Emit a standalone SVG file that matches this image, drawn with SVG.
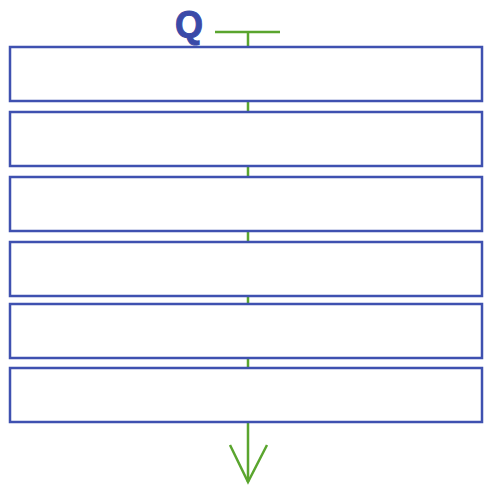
<svg xmlns="http://www.w3.org/2000/svg" width="488" height="494" viewBox="0 0 488 494">
<style>
.box{fill:#fff;stroke:#3f51b0;stroke-width:2.5}
.ln{stroke:#5aa52e;stroke-width:2.5;fill:none}
.q{font-family:"Liberation Sans",Arial,sans-serif;font-weight:bold;font-size:36px;fill:#3a4aa8;stroke:#3a4aa8;stroke-width:1}
</style>
<rect width="488" height="494" fill="#fff"/>
<g id="connectors">
<line class="ln" x1="215" y1="32" x2="280" y2="32" stroke-width="3.5"/>
<line class="ln" x1="248" y1="32" x2="248" y2="482" stroke-width="2"/>
<polyline class="ln" points="230,445 248,482 267,445"/>
</g>
<g id="label"><text class="q" x="175" y="37">Q</text></g>
<g id="box1"><rect class="box" x="10" y="47" width="472" height="54"/></g>
<g id="box2"><rect class="box" x="10" y="112" width="472" height="54"/></g>
<g id="box3"><rect class="box" x="10" y="177" width="472" height="54"/></g>
<g id="box4"><rect class="box" x="10" y="242" width="472" height="54"/></g>
<g id="box5"><rect class="box" x="10" y="304" width="472" height="54"/></g>
<g id="box6"><rect class="box" x="10" y="368" width="472" height="54"/></g>
</svg>
